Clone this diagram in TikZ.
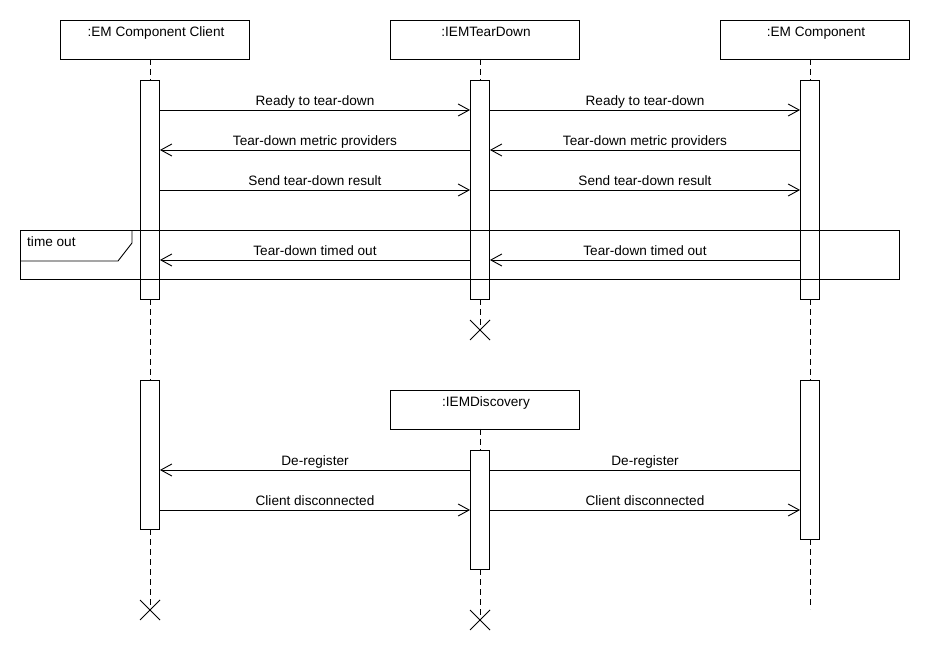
\documentclass[tikz,border=0pt]{standalone}
\usepackage{fontspec}
\setmainfont{Liberation Sans}
\usetikzlibrary{arrows.meta,calc}
\begin{document}
\begin{tikzpicture}[x=1pt,y=-1pt]
\tikzset{
 lbl/.style={font=\fontsize{13.6}{16}\selectfont, inner sep=0pt, anchor=base},
 headbox/.style={draw, line width=0.9pt, fill=white, minimum width=189pt, minimum height=39pt, inner sep=0pt},
 bar/.style={draw, line width=0.9pt, fill=white, minimum width=19pt, inner sep=0pt},
 life/.style={line width=0.9pt, dash pattern=on 6pt off 4pt},
 msg/.style={line width=0.9pt, -{Straight Barb[length=11pt,width=12pt,line width=0.9pt]}},
 plain/.style={line width=0.9pt},
 xmark/.style={line width=0.9pt},
}
\useasboundingbox[fill=white] (0,0) rectangle (930,660);

% headers
\node[headbox] (hc) at (154.5,39.5) {};
\node[headbox] (ht) at (484.5,39.5) {};
\node[headbox] (he) at (814.5,39.5) {};
\node[lbl] (thc) at (156,37) {:EM Component Client};
\node[lbl] (tht) at (486,37) {:IEMTearDown};
\node[lbl] (the) at (816,37) {:EM Component};

% lifeline end points
\coordinate (cend) at (150,610);
\coordinate (tend) at (480,330);
\coordinate (eend) at (810,609);
\coordinate (dend) at (480,620);

\draw[life] (150,59) -- (cend);
\draw[life] (480,59) -- (tend);
\draw[life] (810,59) -- (eend);

% discovery header
\node[headbox] (hd) at (484.5,409.5) {};
\node[lbl] (thd) at (486,407) {:IEMDiscovery};
\draw[life] (480,429) -- (dend);

% activation bars, first part
\node[bar, minimum height=219pt] (c1) at (150,189.5) {};
\node[bar, minimum height=219pt] (t1) at (480,189.5) {};
\node[bar, minimum height=219pt] (e1) at (810,189.5) {};
% activation bars, second part
\node[bar, minimum height=149pt] (c2) at (150,454.5) {};
\node[bar, minimum height=119pt] (d2) at (480,509.5) {};
\node[bar, minimum height=159pt] (e2) at (810,459.5) {};

% messages
\draw[msg] (c1.east |- 0,110) -- (t1.west |- 0,110);
\draw[msg] (t1.east |- 0,110) -- (e1.west |- 0,110);
\node[lbl] at (315,106) {Ready to tear-down};
\node[lbl] at (645,106) {Ready to tear-down};

\draw[msg] (t1.west |- 0,150) -- (c1.east |- 0,150);
\draw[msg] (e1.west |- 0,150) -- (t1.east |- 0,150);
\node[lbl] at (315,146) {Tear-down metric providers};
\node[lbl] at (645,146) {Tear-down metric providers};

\draw[msg] (c1.east |- 0,190) -- (t1.west |- 0,190);
\draw[msg] (t1.east |- 0,190) -- (e1.west |- 0,190);
\node[lbl] at (315,186) {Send tear-down result};
\node[lbl] at (645,186) {Send tear-down result};

\draw[msg] (t1.west |- 0,260) -- (c1.east |- 0,260);
\draw[msg] (e1.west |- 0,260) -- (t1.east |- 0,260);
\node[lbl] at (315,256) {Tear-down timed out};
\node[lbl] at (645,256) {Tear-down timed out};

% time out fragment
\draw[plain] (20.5,230.5) rectangle (899,279);
\draw[plain] (20.5,230.5) -- (132,230.5) -- (132,243) -- (118,261) -- (20.5,261);
\node[lbl, anchor=base west] (tol) at (27,247) {time out};

% destroy marks
\draw[xmark] ($(tend)+(-10,-10)$) -- ($(tend)+(10,10)$) ($(tend)+(-10,10)$) -- ($(tend)+(10,-10)$);

% second part messages
\draw[msg] (d2.west |- 0,470) -- (c2.east |- 0,470);
\draw[plain] (e2.west |- 0,470) -- (d2.east |- 0,470);
\node[lbl] at (315,466) {De-register};
\node[lbl] at (645,466) {De-register};

\draw[msg] (c2.east |- 0,510) -- (d2.west |- 0,510);
\draw[msg] (d2.east |- 0,510) -- (e2.west |- 0,510);
\node[lbl] at (315,506) {Client disconnected};
\node[lbl] at (645,506) {Client disconnected};

\draw[xmark] ($(cend)+(-10,-10)$) -- ($(cend)+(10,10)$) ($(cend)+(-10,10)$) -- ($(cend)+(10,-10)$);
\draw[xmark] ($(dend)+(-10,-10)$) -- ($(dend)+(10,10)$) ($(dend)+(-10,10)$) -- ($(dend)+(10,-10)$);
\end{tikzpicture}
\end{document}
